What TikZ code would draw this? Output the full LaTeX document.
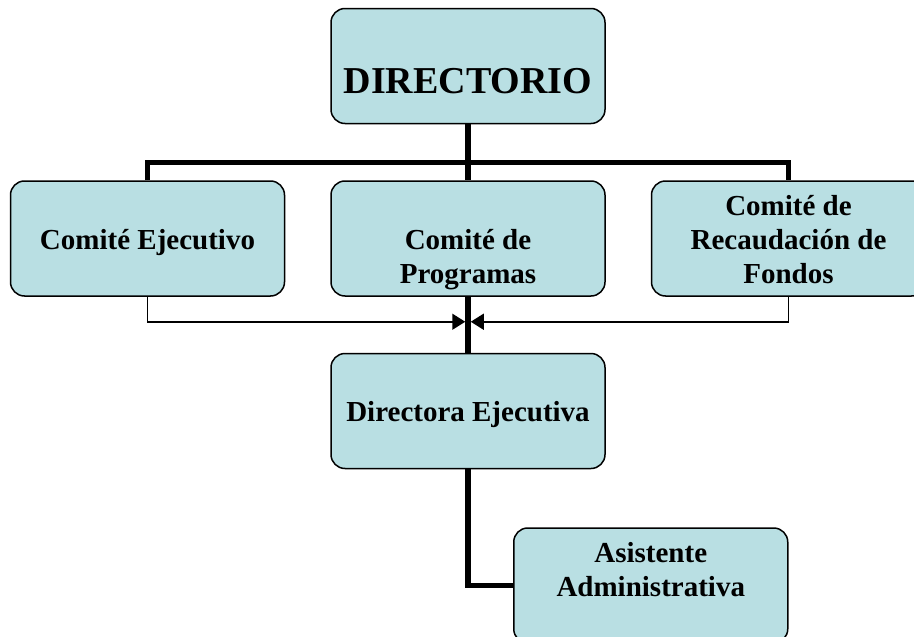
\documentclass[tikz,border=0pt]{standalone}
\usepackage{fontspec}
\setmainfont{Liberation Serif}
\usepackage{tikz}
\usetikzlibrary{arrows.meta, positioning, calc}
\definecolor{boxblue}{RGB}{185,223,227}

\begin{document}
\begin{tikzpicture}[
    x=1pt, y=-1pt,
    box/.style={rectangle, rounded corners=14pt, draw, line width=1.5pt, fill=boxblue,
        minimum width=274pt, minimum height=115pt, inner xsep=4pt, inner ysep=0pt,
        align=center, font=\bfseries\fontsize{29}{34}\selectfont,
        text height=89pt, text depth=0pt},
    bus/.style={line width=5.5pt},
    feed/.style={line width=1.5pt, -{Triangle[length=13pt, width=16pt]}}
]
\useasboundingbox (0,0) rectangle (914,637);

\node[box, font=\bfseries\fontsize{38}{44}\selectfont, text height=55pt] (dir) at (468,66) {DIRECTORIO};
\node[box, below=56pt of dir] (prog) {\mbox{}\\Comité de\\Programas};
\node[box, left=45pt of prog] (ejec) {\mbox{}\\Comité Ejecutivo\\\mbox{}};
\node[box, right=45pt of prog] (fond) {Comité de\\Recaudación de\\Fondos};
\node[box, below=56pt of prog] (dire) {\mbox{}\\Directora Ejecutiva\\\mbox{}};
\node[box, below right=58pt and 45pt of dire.south] (asis) {Asistente\\Administrativa\\\mbox{}};

% connectors
\coordinate (hub) at ([yshift=18pt]prog.north);
\coordinate (join) at ([yshift=-25pt]prog.south);
\draw[bus] (dir.south) -- (prog.north);
\draw[bus] (ejec.north) |- (hub) -| (fond.north);
\draw[feed] (ejec.south) |- ([xshift=-2.75pt]join);
\draw[feed] (fond.south) |- ([xshift=2.75pt]join);
\draw[bus] (prog.south) -- (dire.north);
\draw[bus] (dire.south) |- (asis.west);
\end{tikzpicture}
\end{document}
